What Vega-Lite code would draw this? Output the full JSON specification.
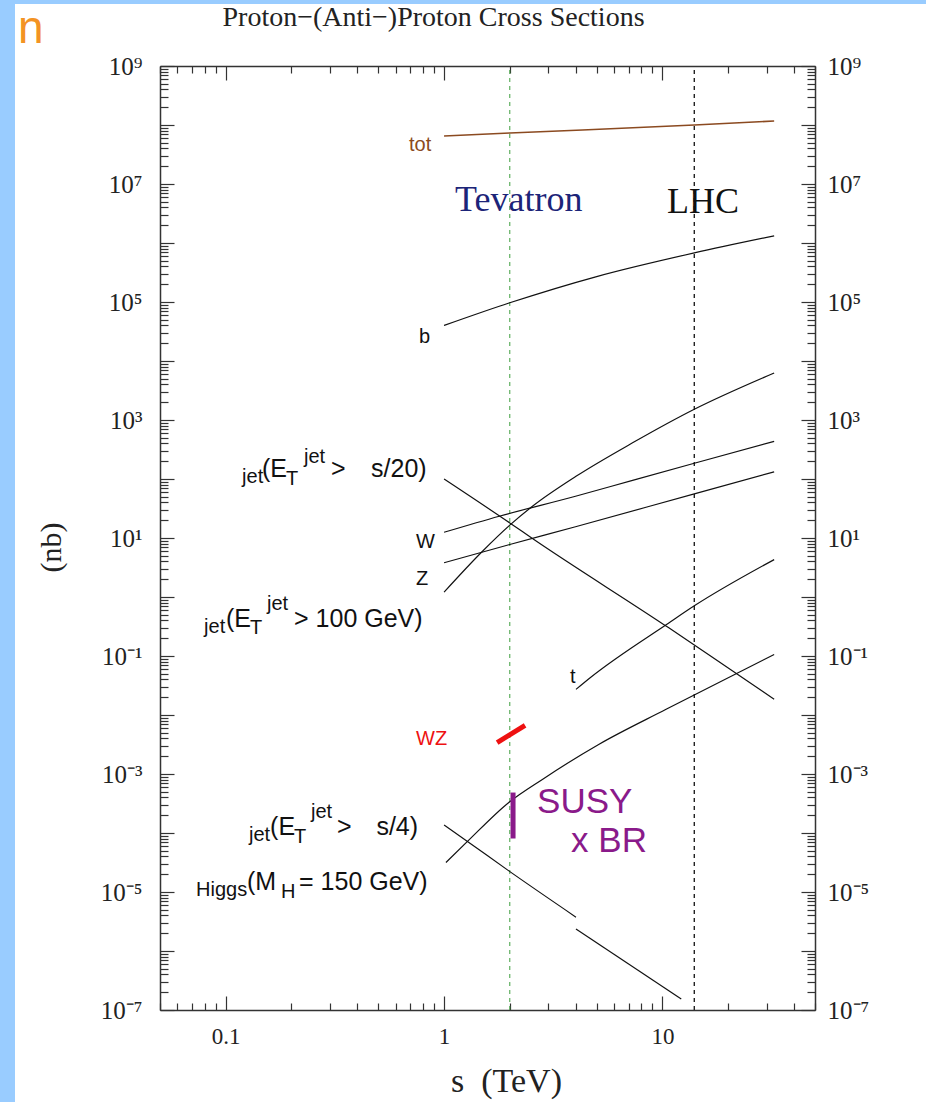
{
  "$schema": "https://vega.github.io/schema/vega-lite/v6.json",
  "width": 911,
  "height": 1098,
  "autosize": {"type": "none"},
  "padding": {"left": 15, "top": 4, "right": 0, "bottom": 0},
  "background": "#99ccff",
  "view": {"fill": "#ffffff", "stroke": null},
  "title": {
    "text": "Proton−(Anti−)Proton Cross Sections",
    "frame": "group",
    "anchor": "middle",
    "orient": "top",
    "offset": -23,
    "baseline": "alphabetic",
    "dx": -37,
    "dy": 27,
    "font": "Liberation Serif",
    "fontSize": 28,
    "fontWeight": "normal",
    "color": "#222222"
  },
  "datasets": {
    "curves": [
      {"process": "tot", "part": "tot", "s": 1, "sigma": 65000000},
      {"process": "tot", "part": "tot", "s": 2, "sigma": 73000000},
      {"process": "tot", "part": "tot", "s": 14, "sigma": 100000000},
      {"process": "tot", "part": "tot", "s": 32.5, "sigma": 117000000},
      {"process": "b", "part": "b", "s": 1, "sigma": 40000},
      {"process": "b", "part": "b", "s": 2, "sigma": 97000},
      {"process": "b", "part": "b", "s": 5, "sigma": 270000},
      {"process": "b", "part": "b", "s": 14, "sigma": 680000},
      {"process": "b", "part": "b", "s": 32.5, "sigma": 1320000},
      {"process": "jet100", "part": "jet100", "s": 1, "sigma": 1.21},
      {"process": "jet100", "part": "jet100", "s": 1.5, "sigma": 5.97},
      {"process": "jet100", "part": "jet100", "s": 2, "sigma": 16.5},
      {"process": "jet100", "part": "jet100", "s": 2.54, "sigma": 34.5},
      {"process": "jet100", "part": "jet100", "s": 4.02, "sigma": 111},
      {"process": "jet100", "part": "jet100", "s": 7.3, "sigma": 410},
      {"process": "jet100", "part": "jet100", "s": 14, "sigma": 1520},
      {"process": "jet100", "part": "jet100", "s": 32.5, "sigma": 6260},
      {"process": "W", "part": "W", "s": 1, "sigma": 12.5},
      {"process": "W", "part": "W", "s": 1.79, "sigma": 23.4},
      {"process": "W", "part": "W", "s": 4, "sigma": 51},
      {"process": "W", "part": "W", "s": 7.3, "sigma": 95},
      {"process": "W", "part": "W", "s": 14, "sigma": 185},
      {"process": "W", "part": "W", "s": 32.5, "sigma": 435},
      {"process": "Z", "part": "Z", "s": 1, "sigma": 3.8},
      {"process": "Z", "part": "Z", "s": 2, "sigma": 7.76},
      {"process": "Z", "part": "Z", "s": 4, "sigma": 15.5},
      {"process": "Z", "part": "Z", "s": 14, "sigma": 56},
      {"process": "Z", "part": "Z", "s": 32.5, "sigma": 132},
      {"process": "jetS20", "part": "jetS20", "s": 1, "sigma": 100},
      {"process": "jetS20", "part": "jetS20", "s": 2, "sigma": 18},
      {"process": "jetS20", "part": "jetS20", "s": 2.54, "sigma": 9.8},
      {"process": "jetS20", "part": "jetS20", "s": 10.7, "sigma": 0.3},
      {"process": "jetS20", "part": "jetS20", "s": 20.9, "sigma": 0.056},
      {"process": "jetS20", "part": "jetS20", "s": 32.5, "sigma": 0.0185},
      {"process": "t", "part": "t", "s": 4.02, "sigma": 0.0272},
      {"process": "t", "part": "t", "s": 4.7, "sigma": 0.0437},
      {"process": "t", "part": "t", "s": 10.7, "sigma": 0.363},
      {"process": "t", "part": "t", "s": 14, "sigma": 0.708},
      {"process": "t", "part": "t", "s": 32.5, "sigma": 4.3},
      {"process": "Higgs", "part": "Higgs", "s": 1.02, "sigma": 0.0000316},
      {"process": "Higgs", "part": "Higgs", "s": 1.28, "sigma": 0.000072},
      {"process": "Higgs", "part": "Higgs", "s": 1.98, "sigma": 0.00033},
      {"process": "Higgs", "part": "Higgs", "s": 2.82, "sigma": 0.00081},
      {"process": "Higgs", "part": "Higgs", "s": 5.13, "sigma": 0.0032},
      {"process": "Higgs", "part": "Higgs", "s": 10.4, "sigma": 0.0125},
      {"process": "Higgs", "part": "Higgs", "s": 32.5, "sigma": 0.106},
      {"process": "jetS4", "part": "jetS4-ppbar", "s": 1, "sigma": 0.000137},
      {"process": "jetS4", "part": "jetS4-ppbar", "s": 1.28, "sigma": 0.000072},
      {"process": "jetS4", "part": "jetS4-ppbar", "s": 1.98, "sigma": 0.0000228},
      {"process": "jetS4", "part": "jetS4-ppbar", "s": 4.02, "sigma": 0.00000375},
      {"process": "jetS4", "part": "jetS4-pp", "s": 4.02, "sigma": 0.00000235},
      {"process": "jetS4", "part": "jetS4-pp", "s": 12.2, "sigma": 0.000000153}
    ],
    "labelMain": [
      {"text": "(E", "s": 0.1466, "sigma": 108},
      {"text": ">", "s": 0.3037, "sigma": 108},
      {"text": "s/20)", "s": 0.463, "sigma": 108},
      {"text": "(E", "s": 0.1003, "sigma": 0.3103},
      {"text": "> 100 GeV)", "s": 0.2056, "sigma": 0.3103},
      {"text": "(E", "s": 0.1596, "sigma": 0.0000924},
      {"text": ">", "s": 0.3236, "sigma": 0.0000924},
      {"text": "s/4)", "s": 0.49, "sigma": 0.0000924},
      {"text": "(M", "s": 0.1252, "sigma": 0.00001081},
      {"text": "= 150 GeV)", "s": 0.2167, "sigma": 0.00001081}
    ],
    "labelSmall": [
      {"text": "jet", "s": 0.1188, "sigma": 85.5},
      {"text": "T", "s": 0.1889, "sigma": 79.1},
      {"text": "jet", "s": 0.2284, "sigma": 186.8},
      {"text": "jet", "s": 0.0796, "sigma": 0.2455},
      {"text": "T", "s": 0.1293, "sigma": 0.236},
      {"text": "jet", "s": 0.1546, "sigma": 0.6025},
      {"text": "jet", "s": 0.1279, "sigma": 0.0000731},
      {"text": "T", "s": 0.2056, "sigma": 0.0000677},
      {"text": "jet", "s": 0.2459, "sigma": 0.0001795},
      {"text": "Higgs", "s": 0.0731, "sigma": 0.00000855},
      {"text": "H", "s": 0.1793, "sigma": 0.00000791},
      {"text": "b", "s": 0.768, "sigma": 20200},
      {"text": "W", "s": 0.7443, "sigma": 6.77},
      {"text": "Z", "s": 0.7443, "sigma": 1.597},
      {"text": "t", "s": 3.777, "sigma": 0.03486}
    ]
  },
  "encoding": {
    "x": {"field": "s", "type": "quantitative", "scale": {"type": "log", "domain": [0.05, 50], "range": [145, 800], "nice": false}, "axis": null},
    "y": {"field": "sigma", "type": "quantitative", "scale": {"type": "log", "domain": [1e-7, 1e9], "range": [1006, 62], "nice": false}, "axis": null}
  },
  "layer": [
    {
      "data": {"values": [{"collider": "Tevatron", "s": 2, "sigma": 1e-7, "sigma2": 1e9}]},
      "mark": {"type": "rule", "color": "#3f9f3f", "strokeWidth": 1, "strokeDash": [4, 4]},
      "encoding": {
        "x": {
          "field": "s", "type": "quantitative",
          "scale": {"type": "log", "domain": [0.05, 50], "range": [145, 800], "nice": false},
          "axis": {
            "orient": "bottom", "offset": -92,
            "values": [0.05, 0.06, 0.07, 0.08, 0.09, 0.1, 0.2, 0.3, 0.4, 0.5, 0.6, 0.7, 0.8, 0.9, 1, 2, 3, 4, 5, 6, 7, 8, 9, 10, 20, 30, 40, 50],
            "labelExpr": "datum.value == 0.1 ? '0.1' : datum.value == 1 ? '1' : datum.value == 10 ? '10' : ''",
            "labelFont": "Liberation Serif", "labelFontSize": 23, "labelColor": "#222222",
            "labelPadding": 29, "labelOverlap": false, "labelFlush": false,
            "tickSize": {"condition": {"test": "abs(log(datum.value) / LN10 - round(log(datum.value) / LN10)) < 0.001", "value": -14}, "value": -7},
            "tickColor": "#333333", "tickWidth": 1.2,
            "domainColor": "#333333", "domainWidth": 1.5, "grid": false,
            "title": "s\u00a0\u00a0(TeV)",
            "titleFont": "Liberation Serif", "titleFontSize": 34, "titleFontWeight": "normal", "titleColor": "#222222",
            "titleX": 491, "titleY": 71, "titleAlign": "center", "titleBaseline": "middle"
          }
        },
        "y": {
          "field": "sigma", "type": "quantitative",
          "scale": {"type": "log", "domain": [1e-7, 1e9], "range": [1006, 62], "nice": false},
          "axis": {
            "orient": "left", "offset": -145,
            "values": [1e-7, 2e-7, 3e-7, 4e-7, 5e-7, 6e-7, 7e-7, 8e-7, 9e-7, 1e-6, 2e-6, 3e-6, 4e-6, 5e-6, 6e-6, 7e-6, 8e-6, 9e-6, 1e-5, 2e-5, 3e-5, 4e-5, 5e-5, 6e-5, 7e-5, 8e-5, 9e-5, 1e-4, 2e-4, 3e-4, 4e-4, 5e-4, 6e-4, 7e-4, 8e-4, 9e-4, 0.001, 0.002, 0.003, 0.004, 0.005, 0.006, 0.007, 0.008, 0.009, 0.01, 0.02, 0.03, 0.04, 0.05, 0.06, 0.07, 0.08, 0.09, 0.1, 0.2, 0.3, 0.4, 0.5, 0.6, 0.7, 0.8, 0.9, 1, 2, 3, 4, 5, 6, 7, 8, 9, 10, 20, 30, 40, 50, 60, 70, 80, 90, 100, 200, 300, 400, 500, 600, 700, 800, 900, 1000, 2000, 3000, 4000, 5000, 6000, 7000, 8000, 9000, 1e4, 2e4, 3e4, 4e4, 5e4, 6e4, 7e4, 8e4, 9e4, 1e5, 2e5, 3e5, 4e5, 5e5, 6e5, 7e5, 8e5, 9e5, 1e6, 2e6, 3e6, 4e6, 5e6, 6e6, 7e6, 8e6, 9e6, 1e7, 2e7, 3e7, 4e7, 5e7, 6e7, 7e7, 8e7, 9e7, 1e8, 2e8, 3e8, 4e8, 5e8, 6e8, 7e8, 8e8, 9e8, 1e9],
            "labelExpr": "datum.value == 1000000000 ? '10⁹' : datum.value == 10000000 ? '10⁷' : datum.value == 100000 ? '10⁵' : datum.value == 1000 ? '10³' : datum.value == 10 ? '10¹' : datum.value == 0.1 ? '10⁻¹' : datum.value == 0.001 ? '10⁻³' : datum.value == 0.00001 ? '10⁻⁵' : datum.value == 0.0000001 ? '10⁻⁷' : ''",
            "labelFont": "Liberation Serif", "labelFontSize": 25, "labelColor": "#222222",
            "labelPadding": 32, "labelOverlap": false, "labelFlush": false,
            "tickSize": {"condition": {"test": "abs(log(datum.value) / LN10 - round(log(datum.value) / LN10)) < 0.001", "value": -14}, "value": -8},
            "tickColor": "#333333", "tickWidth": 1.2,
            "domainColor": "#333333", "domainWidth": 1.5, "grid": false,
            "title": "(nb)",
            "titleFont": "Liberation Serif", "titleFontSize": 30, "titleFontWeight": "normal", "titleColor": "#222222",
            "titleAngle": -90, "titleX": -109, "titleY": 543, "titleAlign": "center", "titleBaseline": "middle"
          }
        },
        "y2": {"field": "sigma2"}
      }
    },
    {
      "data": {"values": [{"collider": "LHC", "s": 14, "sigma": 1e-7, "sigma2": 1e9}]},
      "mark": {"type": "rule", "color": "#222222", "strokeWidth": 1.4, "strokeDash": [4, 4]},
      "encoding": {
        "x": {
          "field": "s", "type": "quantitative",
          "scale": {"type": "log", "domain": [0.05, 50], "range": [145, 800], "nice": false},
          "axis": {
            "orient": "top", "offset": -62,
            "values": [0.05, 0.06, 0.07, 0.08, 0.09, 0.1, 0.2, 0.3, 0.4, 0.5, 0.6, 0.7, 0.8, 0.9, 1, 2, 3, 4, 5, 6, 7, 8, 9, 10, 20, 30, 40, 50],
            "labels": false,
            "tickSize": {"condition": {"test": "abs(log(datum.value) / LN10 - round(log(datum.value) / LN10)) < 0.001", "value": -14}, "value": -7},
            "tickColor": "#333333", "tickWidth": 1.2,
            "domainColor": "#333333", "domainWidth": 1.5, "grid": false,
            "title": null
          }
        },
        "y": {
          "field": "sigma", "type": "quantitative",
          "scale": {"type": "log", "domain": [1e-7, 1e9], "range": [1006, 62], "nice": false},
          "axis": {
            "orient": "right", "offset": -111,
            "values": [1e-7, 2e-7, 3e-7, 4e-7, 5e-7, 6e-7, 7e-7, 8e-7, 9e-7, 1e-6, 2e-6, 3e-6, 4e-6, 5e-6, 6e-6, 7e-6, 8e-6, 9e-6, 1e-5, 2e-5, 3e-5, 4e-5, 5e-5, 6e-5, 7e-5, 8e-5, 9e-5, 1e-4, 2e-4, 3e-4, 4e-4, 5e-4, 6e-4, 7e-4, 8e-4, 9e-4, 0.001, 0.002, 0.003, 0.004, 0.005, 0.006, 0.007, 0.008, 0.009, 0.01, 0.02, 0.03, 0.04, 0.05, 0.06, 0.07, 0.08, 0.09, 0.1, 0.2, 0.3, 0.4, 0.5, 0.6, 0.7, 0.8, 0.9, 1, 2, 3, 4, 5, 6, 7, 8, 9, 10, 20, 30, 40, 50, 60, 70, 80, 90, 100, 200, 300, 400, 500, 600, 700, 800, 900, 1000, 2000, 3000, 4000, 5000, 6000, 7000, 8000, 9000, 1e4, 2e4, 3e4, 4e4, 5e4, 6e4, 7e4, 8e4, 9e4, 1e5, 2e5, 3e5, 4e5, 5e5, 6e5, 7e5, 8e5, 9e5, 1e6, 2e6, 3e6, 4e6, 5e6, 6e6, 7e6, 8e6, 9e6, 1e7, 2e7, 3e7, 4e7, 5e7, 6e7, 7e7, 8e7, 9e7, 1e8, 2e8, 3e8, 4e8, 5e8, 6e8, 7e8, 8e8, 9e8, 1e9],
            "labelExpr": "datum.value == 1000000000 ? '10⁹' : datum.value == 10000000 ? '10⁷' : datum.value == 100000 ? '10⁵' : datum.value == 1000 ? '10³' : datum.value == 10 ? '10¹' : datum.value == 0.1 ? '10⁻¹' : datum.value == 0.001 ? '10⁻³' : datum.value == 0.00001 ? '10⁻⁵' : datum.value == 0.0000001 ? '10⁻⁷' : ''",
            "labelFont": "Liberation Serif", "labelFontSize": 25, "labelColor": "#222222",
            "labelPadding": 26, "labelOverlap": false, "labelFlush": false,
            "tickSize": {"condition": {"test": "abs(log(datum.value) / LN10 - round(log(datum.value) / LN10)) < 0.001", "value": -14}, "value": -8},
            "tickColor": "#333333", "tickWidth": 1.2,
            "domainColor": "#333333", "domainWidth": 1.5, "grid": false,
            "title": null
          }
        },
        "y2": {"field": "sigma2"}
      }
    },
    {
      "data": {"name": "curves"},
      "transform": [{"filter": "datum.process != 'tot'"}],
      "mark": {"type": "line", "color": "#111111", "strokeWidth": 1.2, "interpolate": "monotone"},
      "encoding": {"detail": {"field": "part"}}
    },
    {
      "data": {"name": "curves"},
      "transform": [{"filter": "datum.process == 'tot'"}],
      "mark": {"type": "line", "color": "#8b4a20", "strokeWidth": 1.6, "interpolate": "monotone"},
      "encoding": {"detail": {"field": "part"}}
    },
    {
      "data": {"values": [{"process": "WZ", "s": 1.75, "sigma": 0.0034}, {"process": "WZ", "s": 2.35, "sigma": 0.0067}]},
      "mark": {"type": "line", "color": "#ee1111", "strokeWidth": 5, "strokeCap": "butt"},
      "encoding": {}
    },
    {
      "data": {"values": [{"process": "SUSY x BR", "s": 2.07, "sigma": 0.0000807, "sigma2": 0.000485}]},
      "mark": {"type": "rule", "color": "#8a1a8a", "strokeWidth": 5},
      "encoding": {"y2": {"field": "sigma2"}}
    },
    {
      "data": {"name": "labelMain"},
      "mark": {"type": "text", "font": "Liberation Sans", "fontSize": 25, "color": "#111111", "align": "left", "baseline": "alphabetic"},
      "encoding": {"text": {"field": "text"}}
    },
    {
      "data": {"name": "labelSmall"},
      "mark": {"type": "text", "font": "Liberation Sans", "fontSize": 20, "color": "#111111", "align": "left", "baseline": "alphabetic"},
      "encoding": {"text": {"field": "text"}}
    },
    {
      "data": {"values": [{"text": "tot", "s": 0.6914, "sigma": 36200000}]},
      "mark": {"type": "text", "font": "Liberation Sans", "fontSize": 20, "color": "#8b4a20", "align": "left", "baseline": "alphabetic"},
      "encoding": {"text": {"field": "text"}}
    },
    {
      "data": {"values": [{"text": "WZ", "s": 0.7443, "sigma": 0.0031}]},
      "mark": {"type": "text", "font": "Liberation Sans", "fontSize": 20, "color": "#ee1111", "align": "left", "baseline": "alphabetic"},
      "encoding": {"text": {"field": "text"}}
    },
    {
      "data": {"values": [{"text": "Tevatron", "s": 1.123, "sigma": 3480000}]},
      "mark": {"type": "text", "font": "Liberation Serif", "fontSize": 36, "color": "#1c2478", "align": "left", "baseline": "alphabetic"},
      "encoding": {"text": {"field": "text"}}
    },
    {
      "data": {"values": [{"text": "LHC", "s": 10.5, "sigma": 3220000}]},
      "mark": {"type": "text", "font": "Liberation Serif", "fontSize": 36, "color": "#111111", "align": "left", "baseline": "alphabetic"},
      "encoding": {"text": {"field": "text"}}
    },
    {
      "data": {"values": [{"text": "SUSY", "s": 2.667, "sigma": 0.000218}, {"text": "x BR", "s": 3.817, "sigma": 0.0000476}]},
      "mark": {"type": "text", "font": "Liberation Sans", "fontSize": 35, "color": "#8a1a8a", "align": "left", "baseline": "alphabetic"},
      "encoding": {"text": {"field": "text"}}
    },
    {
      "data": {"values": [{"text": "n", "s": 0.01119, "sigma": 2480000000}]},
      "mark": {"type": "text", "font": "Liberation Sans", "fontSize": 46, "color": "#f39323", "align": "left", "baseline": "alphabetic"},
      "encoding": {"text": {"field": "text"}}
    }
  ],
  "resolve": {"axis": {"x": "independent", "y": "independent"}}
}
